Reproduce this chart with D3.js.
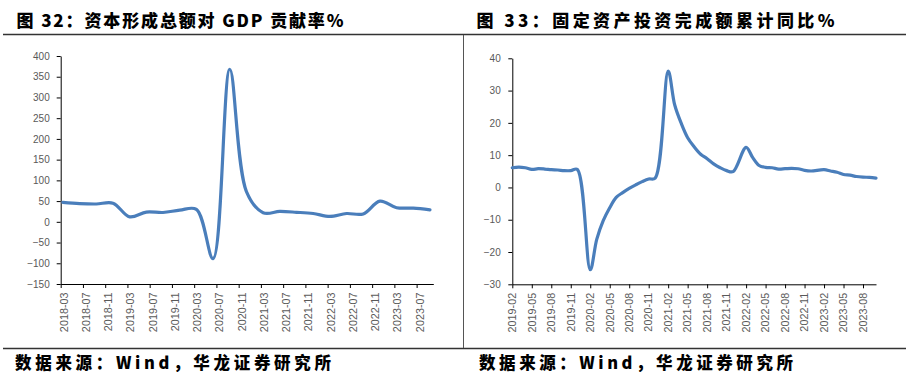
<!DOCTYPE html>
<html>
<head>
<meta charset="utf-8">
<script src="https://cdn.jsdelivr.net/npm/d3@7/dist/d3.min.js"></script>
<style>
  html, body { margin: 0; padding: 0; background: #fff; }
  svg { display: block; }
</style>
</head>
<body>
<svg id="chart" width="916" height="385"></svg>
<script>
// ---------- DATA ----------
const titleLeft = "图 32：资本形成总额对 GDP 贡献率%";
const titleRight = "图 33：固定资产投资完成额累计同比%";
const sourceText = "数据来源：Wind，华龙证券研究所";

// Left: quarterly contribution rate (%)
const leftDates = ["2018-03","2018-06","2018-09","2018-12","2019-03","2019-06","2019-09","2019-12",
  "2020-03","2020-06","2020-09","2020-12","2021-03","2021-06","2021-09","2021-12",
  "2022-03","2022-06","2022-09","2022-12","2023-03","2023-06","2023-09"];
const leftValues = [47, 44, 43, 45, 12, 23.5, 22.5, 28,
  30, -89, 368, 73, 22, 25, 23, 20,
  13, 20, 19, 50, 34, 33, 29];
const leftTickLabels = ["2018-03","2018-07","2018-11","2019-03","2019-07","2019-11","2020-03","2020-07",
  "2020-11","2021-03","2021-07","2021-11","2022-03","2022-07","2022-11","2023-03","2023-07"];
const leftYTicks = [-150,-100,-50,0,50,100,150,200,250,300,350,400];

// Right: FAI cumulative YoY (%)
const rightDates = ["2019-02","2019-03","2019-04","2019-05","2019-06","2019-07","2019-08","2019-09","2019-10","2019-11","2019-12",
  "2020-02","2020-03","2020-04","2020-05","2020-06","2020-07","2020-08","2020-09","2020-10","2020-11","2020-12",
  "2021-02","2021-03","2021-04","2021-05","2021-06","2021-07","2021-08","2021-09","2021-10","2021-11","2021-12",
  "2022-02","2022-03","2022-04","2022-05","2022-06","2022-07","2022-08","2022-09","2022-10","2022-11","2022-12",
  "2023-02","2023-03","2023-04","2023-05","2023-06","2023-07","2023-08","2023-09","2023-10"];
const rightValues = [6.1,6.3,6.1,5.6,5.8,5.7,5.5,5.4,5.2,5.2,5.6,
  -25.5,-16.1,-10.3,-6.3,-3.1,-1.6,-0.3,0.8,1.8,2.6,2.9,
  36,25.6,19.9,15.4,12.6,10.3,8.9,7.3,6.1,5.2,4.9,
  12.4,9.3,6.8,6.2,6.1,5.7,5.8,5.9,5.8,5.3,5.1,
  5.5,5.1,4.7,4.0,3.8,3.4,3.2,3.1,2.9];
const rightTickLabels = ["2019-02","2019-05","2019-08","2019-11","2020-02","2020-05","2020-08","2020-11",
  "2021-02","2021-05","2021-08","2021-11","2022-02","2022-05","2022-08","2022-11","2023-02","2023-05","2023-08"];
const rightYTicks = [-30,-20,-10,0,10,20,30,40];

// ---------- HELPERS ----------
function monthIndex(s, y0, m0) {
  const [y, m] = s.split("-").map(Number);
  return (y - y0) * 12 + (m - m0);
}

const svg = d3.select("#chart");
svg.append("rect").attr("width", 916).attr("height", 385).attr("fill", "#fff");

const LINE = "#4a7ebb";
const TXT = "#595959";
const CJK = "'Noto Sans CJK SC', 'Noto Sans', sans-serif";
const LAT = "'Liberation Sans', Arial, sans-serif";

// Frame lines
svg.append("line").attr("x1", 3).attr("x2", 906).attr("y1", 34.5).attr("y2", 34.5)
  .attr("stroke", "#333").attr("stroke-width", 1.3);
svg.append("line").attr("x1", 3).attr("x2", 906).attr("y1", 348.5).attr("y2", 348.5)
  .attr("stroke", "#333").attr("stroke-width", 1.3);
svg.append("line").attr("x1", 463.5).attr("x2", 463.5).attr("y1", 35).attr("y2", 348)
  .attr("stroke", "#555").attr("stroke-width", 1);

// Titles
svg.append("text").attr("x", 16.5).attr("y", 26.5).text(titleLeft)
  .attr("font-family", CJK).attr("font-weight", 900).attr("font-size", 17)
  .attr("fill", "#000").attr("textLength", 327).attr("lengthAdjust", "spacing");
svg.append("text").attr("x", 476.5).attr("y", 26.5).text(titleRight)
  .attr("font-family", CJK).attr("font-weight", 900).attr("font-size", 17)
  .attr("fill", "#000").attr("textLength", 358).attr("lengthAdjust", "spacing");

// Footers
svg.append("text").attr("x", 15).attr("y", 369).text(sourceText)
  .attr("font-family", CJK).attr("font-weight", 900).attr("font-size", 16.5)
  .attr("fill", "#000").attr("textLength", 316).attr("lengthAdjust", "spacing");
svg.append("text").attr("x", 479).attr("y", 369).text(sourceText)
  .attr("font-family", CJK).attr("font-weight", 900).attr("font-size", 16.5)
  .attr("fill", "#000").attr("textLength", 314).attr("lengthAdjust", "spacing");

function styleAxis(g) {
  g.selectAll(".domain").attr("stroke", "#000").attr("stroke-width", 1);
  g.selectAll(".tick line").attr("stroke", "#000").attr("stroke-width", 1);
  g.selectAll("text").attr("fill", TXT).attr("font-family", LAT).attr("font-size", 10);
}

function drawChart(opts) {
  const { x, y, yTicks, tickIdx, tickLabels, labelOffset, pts } = opts;
  const x0 = x.range()[0];
  const yBottom = y.range()[0];

  // Y axis
  const gy = svg.append("g").attr("transform", `translate(${x0},0)`)
    .call(d3.axisLeft(y).tickValues(yTicks).tickSize(4).tickPadding(opts.yPad).tickSizeOuter(0));
  styleAxis(gy);

  // X axis
  const gx = svg.append("g").attr("transform", `translate(0,${yBottom})`)
    .call(d3.axisBottom(x).tickValues(tickIdx).tickSize(4).tickSizeOuter(0).tickFormat(""));
  styleAxis(gx);

  // X tick labels (rotated)
  svg.append("g").selectAll("text").data(tickIdx).join("text")
    .attr("transform", (d) => `translate(${x(d) + labelOffset},${yBottom + 8.5}) rotate(-90)`)
    .attr("text-anchor", "end").attr("dy", "0.35em")
    .attr("fill", TXT).attr("font-family", LAT).attr("font-size", 10.8)
    .text((d, i) => tickLabels[i]);

  // Line
  const line = d3.line().x((d) => x(d.i)).y((d) => y(d.v)).curve(d3.curveCatmullRom.alpha(0.5));
  svg.append("path").datum(pts).attr("d", line)
    .attr("fill", "none").attr("stroke", LINE).attr("stroke-width", 3.2)
    .attr("stroke-linejoin", "round").attr("stroke-linecap", "round");
}

// Left chart
const xL = d3.scaleLinear().domain([0, 67]).range([60.7, 433.3]);
const yL = d3.scaleLinear().domain([-150, 400]).range([284, 56]);
drawChart({
  x: xL, y: yL, yTicks: leftYTicks, yPad: 7,
  tickIdx: leftTickLabels.map((s) => monthIndex(s, 2018, 3)),
  tickLabels: leftTickLabels, labelOffset: 3.2,
  pts: leftDates.map((s, k) => ({ i: monthIndex(s, 2018, 3) + 0.4, v: leftValues[k] }))
});

// Right chart
const xR = d3.scaleLinear().domain([0, 56]).range([512.3, 876]);
const yR = d3.scaleLinear().domain([-30, 40]).range([284.3, 58.3]);
drawChart({
  x: xR, y: yR, yTicks: rightYTicks, yPad: 7.6,
  tickIdx: rightTickLabels.map((s) => monthIndex(s, 2019, 2)),
  tickLabels: rightTickLabels, labelOffset: 0,
  pts: rightDates.map((s, k) => ({ i: monthIndex(s, 2019, 2), v: rightValues[k] }))
});
</script>
</body>
</html>
